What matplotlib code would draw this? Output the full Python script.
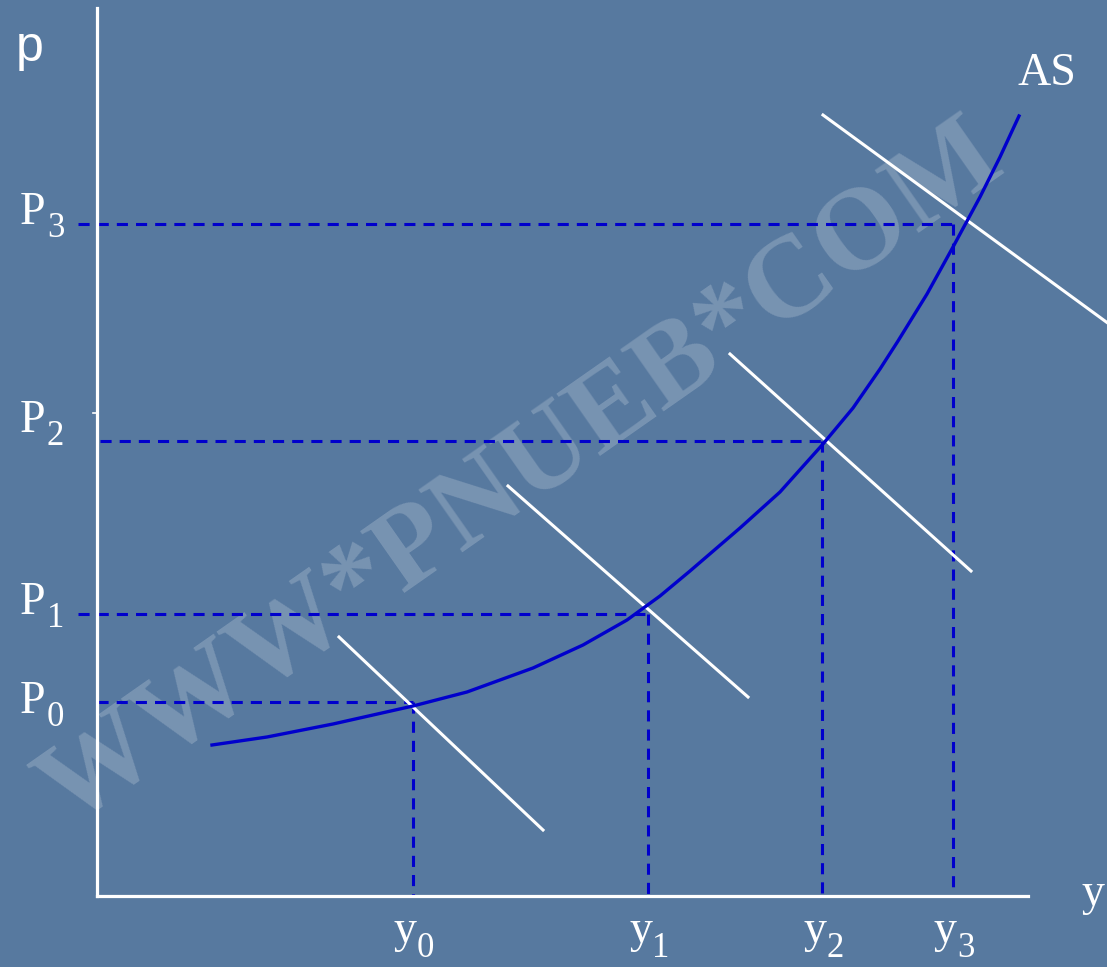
import matplotlib.pyplot as plt

plt.rcParams['lines.scale_dashes'] = False

# output levels (y) and price levels (P), origin at the axes corner
y_levels = [316, 551, 725, 856]
p_levels = [194, 282, 455, 672]
y_names = ['0', '1', '2', '3']
p_names = ['0', '1', '2', '3']
dash_start = [0, -19, 3, -19]

# AS curve
as_x = [115, 170, 236, 316, 370, 436, 486, 530, 563, 593, 643, 683, 726,
        756, 783, 801, 830, 856, 883, 903, 922]
as_y = [151, 159, 172, 190, 204, 228, 251, 276, 300, 325, 368, 404, 452,
        488, 527, 555, 602, 649, 699, 739, 780]

# AD lines (start x, start y, end x, end y)
ad_lines = [
    (242, 259, 446, 66),
    (411, 410, 651, 199),
    (633, 542, 874, 325),
    (726, 781, 1023, 564),
]

bg = '#57799f'
blue = '#0000cc'
serif = 'Liberation Serif'

fig = plt.figure(figsize=(11.07, 9.67), dpi=100, facecolor=bg)
ax = fig.add_axes([0, 0, 1, 1])
ax.set_facecolor(bg)
ax.set_xlim(-97, 1010)
ax.set_ylim(-71, 896)
ax.axis('off')

# watermark
ax.text(425, 420, 'WWW*PNUEB*COM', fontsize=84, fontweight='bold',
        family=serif, color='white', alpha=0.2,
        rotation=35, ha='center', va='center', rotation_mode='anchor', zorder=1)

# axes
ax.plot([0, 0], [0, 888], color='white', lw=2.3, zorder=3)
ax.plot([0, 931], [0, 0], color='white', lw=2.3, zorder=3)
ax.plot([-4, 0], [483, 483], color='white', lw=1.2, zorder=3)

# dashed guides
for i in range(4):
    l, = ax.plot([dash_start[i], y_levels[i]], [p_levels[i], p_levels[i]],
                 color=blue, lw=2.2, zorder=2)
    l.set_dashes((8, 5.8))
    l, = ax.plot([y_levels[i], y_levels[i]], [p_levels[i], 0],
                 color=blue, lw=2.2, zorder=2)
    l.set_dashes((8, 5.8))

# AD lines
for x0, y0, x1, y1 in ad_lines:
    ax.plot([x0, x1], [y0, y1], color='white', lw=2.2, zorder=4)

# AS curve
ax.plot(as_x, as_y, color=blue, lw=2.4, zorder=5, solid_joinstyle='round')

# labels with subscripts
lab_dy = [-11, 0, 9, 0]
for i in range(4):
    yb = p_levels[i] + lab_dy[i]
    ax.text(-77, yb, 'P', fontsize=33, color='white', family=serif,
            ha='left', va='baseline')
    ax.text(-50, yb - 13, p_names[i], fontsize=25, color='white', family=serif,
            ha='left', va='baseline')
    ax.text(y_levels[i] - 19, -46, 'y', fontsize=33, color='white', family=serif,
            ha='left', va='baseline')
    ax.text(y_levels[i] + 4, -61, y_names[i], fontsize=25, color='white',
            family=serif, ha='left', va='baseline')

ax.text(920, 811, 'AS', fontsize=33, color='white', family=serif,
        ha='left', va='baseline')
ax.text(-81, 835, 'p', fontsize=36, color='white', family='Liberation Sans',
        ha='left', va='baseline')
ax.text(985, -9, 'y', fontsize=33, color='white', family=serif,
        ha='left', va='baseline')

fig.savefig('out.png', dpi=100, facecolor=bg)
